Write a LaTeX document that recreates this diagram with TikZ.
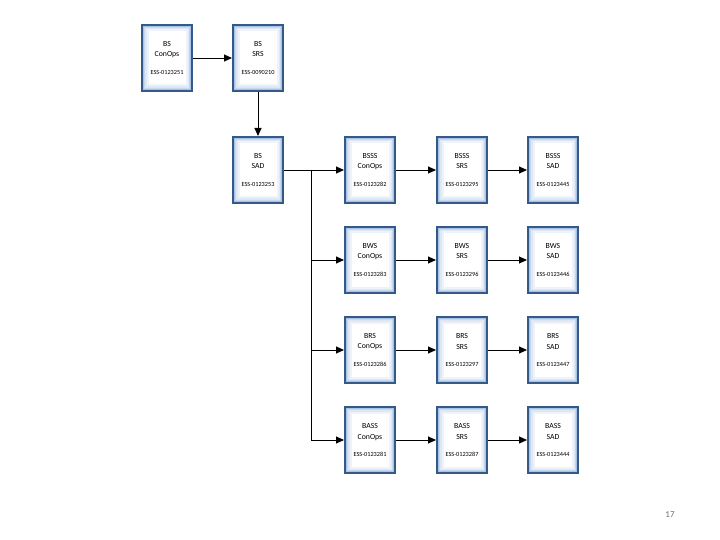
\documentclass[tikz,border=0pt]{standalone}
\usepackage{fontspec}
\setmainfont{Carlito}
\usetikzlibrary{arrows.meta, positioning}
\definecolor{dblue}{RGB}{52, 90, 138}
\definecolor{lblue}{RGB}{160, 188, 226}
\definecolor{pgray}{RGB}{110, 110, 110}

\begin{document}
\begin{tikzpicture}[
  x=1bp, y=-1bp,
  box/.style={rectangle, draw=#1, line width=2bp, fill=white,
              minimum width=50bp, minimum height=66bp, inner sep=0pt,
              align=center, font=\fontsize{7.8}{11}\selectfont,
              path picture={
                \draw[lblue!18, line width=13bp] (path picture bounding box.south west) rectangle (path picture bounding box.north east);
                \draw[lblue!35, line width=9bp] (path picture bounding box.south west) rectangle (path picture bounding box.north east);
                \draw[lblue!60, line width=6bp] (path picture bounding box.south west) rectangle (path picture bounding box.north east);
                \draw[lblue!90, line width=3.5bp] (path picture bounding box.south west) rectangle (path picture bounding box.north east);
              }},
  arr/.style={-{Triangle[length=8bp, width=7bp]}, line width=0.9bp, #1},
  arr/.default=black
]
\useasboundingbox (0,0) rectangle (720,540);

% Top row
\node[box=dblue] (bsCon) at (167,58)  {BS\\ConOps\\[7bp]{\fontsize{6.3}{7}\selectfont ESS-0123251}};
\node[box=dblue] (bsSrs) at (258,58)  {BS\\SRS\\[7bp]{\fontsize{6.3}{7}\selectfont ESS-0090210}};
\node[box=dblue] (bsSad) at (258,170) {BS\\SAD\\[7bp]{\fontsize{6.3}{7}\selectfont ESS-0123253}};

% Row 1
\node[box=dblue] (bsssCon) at (370,170) {BSSS\\ConOps\\[7bp]{\fontsize{6.3}{7}\selectfont ESS-0123282}};
\node[box=dblue] (bsssSrs) at (462,170) {BSSS\\SRS\\[7bp]{\fontsize{6.3}{7}\selectfont ESS-0123295}};
\node[box=dblue] (bsssSad) at (553,170) {BSSS\\SAD\\[7bp]{\fontsize{6.3}{7}\selectfont ESS-0123445}};
% Row 2
\node[box=dblue] (bwsCon) at (370,260) {BWS\\ConOps\\[7bp]{\fontsize{6.3}{7}\selectfont ESS-0123283}};
\node[box=dblue] (bwsSrs) at (462,260) {BWS\\SRS\\[7bp]{\fontsize{6.3}{7}\selectfont ESS-0123296}};
\node[box=dblue] (bwsSad) at (553,260) {BWS\\SAD\\[7bp]{\fontsize{6.3}{7}\selectfont ESS-0123446}};
% Row 3
\node[box=dblue] (brsCon) at (370,350) {BRS\\ConOps\\[7bp]{\fontsize{6.3}{7}\selectfont ESS-0123286}};
\node[box=dblue] (brsSrs) at (462,350) {BRS\\SRS\\[7bp]{\fontsize{6.3}{7}\selectfont ESS-0123297}};
\node[box=dblue] (brsSad) at (553,350) {BRS\\SAD\\[7bp]{\fontsize{6.3}{7}\selectfont ESS-0123447}};
% Row 4
\node[box=dblue] (bassCon) at (370,440) {BASS\\ConOps\\[7bp]{\fontsize{6.3}{7}\selectfont ESS-0123281}};
\node[box=dblue] (bassSrs) at (462,440) {BASS\\SRS\\[7bp]{\fontsize{6.3}{7}\selectfont ESS-0123287}};
\node[box=dblue] (bassSad) at (553,440) {BASS\\SAD\\[7bp]{\fontsize{6.3}{7}\selectfont ESS-0123444}};

% Top arrows
\draw[arr] (bsCon) -- (bsSrs);
\draw[arr] (bsSrs) -- (bsSad);
% Fan out to the ConOps column
\coordinate (split) at (311,170);
\draw[arr] (bsSad) -- (bsssCon);
\draw[line width=0.9bp] (split) -- (split |- bassCon);
\draw[arr] (split |- bwsCon)  -- (bwsCon);
\draw[arr] (split |- brsCon)  -- (brsCon);
\draw[arr] (split |- bassCon) -- (bassCon);
% Row arrows
\draw[arr] (bsssCon) -- (bsssSrs);
\draw[arr] (bsssSrs) -- (bsssSad);
\draw[arr] (bwsCon)  -- (bwsSrs);
\draw[arr] (bwsSrs)  -- (bwsSad);
\draw[arr] (brsCon)  -- (brsSrs);
\draw[arr] (brsSrs)  -- (brsSad);
\draw[arr] (bassCon) -- (bassSrs);
\draw[arr] (bassSrs) -- (bassSad);

% Page number
\node[text=pgray, font=\fontsize{9}{10}\selectfont] (pgnum) at (670,515) {17};
\end{tikzpicture}
\end{document}
